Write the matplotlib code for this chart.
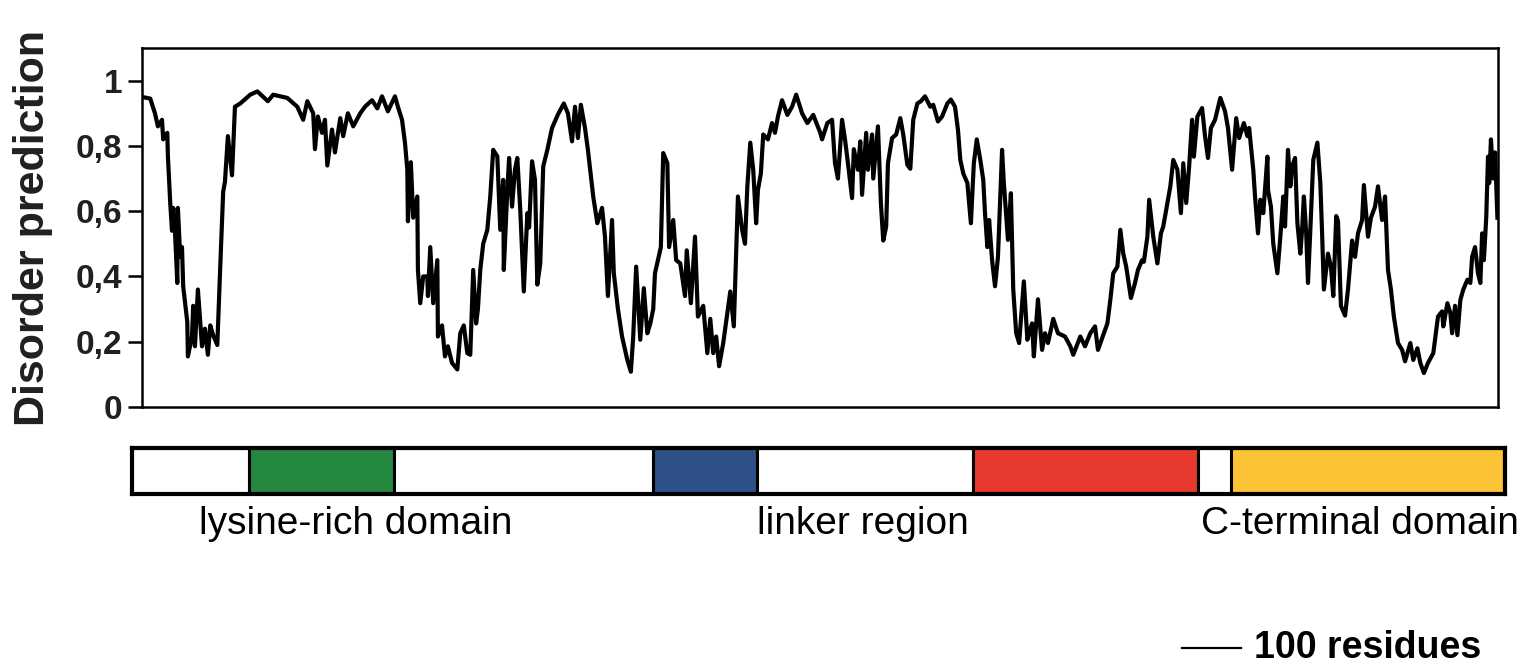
import matplotlib
matplotlib.use("Agg")
import matplotlib.pyplot as plt
from matplotlib.transforms import blended_transform_factory

plt.rcParams["font.family"] = ["Liberation Sans", "DejaVu Sans"]

# disorder prediction trace (residue, score)
residue = [
    0, 14, 22, 27, 34, 36, 43, 44, 48, 51, 53, 56, 60, 61, 65, 68, 70, 77, 78, 85,
    87, 90, 95, 102, 107, 112, 116, 121, 128, 133, 138, 141, 146, 153, 158, 167, 184, 196, 214, 223,
    247, 264, 274, 281, 291, 294, 299, 306, 311, 315, 323, 328, 337, 342, 350, 359, 371, 379, 391, 400,
    408, 418, 430, 435, 442, 447, 451, 452, 457, 461, 468, 469, 473, 478, 485, 486, 490, 495, 502, 503,
    510, 515, 520, 527, 536, 541, 547, 553, 558, 563, 568, 571, 575, 580, 587, 592, 597, 604, 609, 614,
    615, 621, 624, 629, 634, 638, 643, 649, 655, 658, 663, 668, 672, 677, 682, 689, 697, 707, 717, 724,
    731, 736, 741, 746, 753, 758, 767, 774, 782, 787, 792, 799, 802, 809, 816, 825, 831, 835, 840, 847,
    853, 859, 864, 869, 872, 877, 882, 886, 893, 896, 903, 908, 915, 923, 926, 933, 940, 945, 954, 961,
    966, 971, 976, 981, 988, 995, 1000, 1006, 1013, 1020, 1025, 1029, 1034, 1039, 1044, 1047, 1052, 1056, 1064, 1071,
    1076, 1081, 1088, 1097, 1105, 1112, 1122, 1131, 1141, 1153, 1156, 1165, 1173, 1178, 1183, 1190, 1195, 1200, 1207, 1210,
    1217, 1221, 1224, 1231, 1234, 1241, 1243, 1251, 1256, 1260, 1265, 1268, 1275, 1282, 1289, 1294, 1301, 1306, 1311, 1318,
    1324, 1331, 1340, 1345, 1353, 1360, 1369, 1375, 1382, 1387, 1391, 1396, 1403, 1409, 1414, 1419, 1425, 1430, 1433, 1437,
    1440, 1445, 1450, 1455, 1462, 1465, 1472, 1477, 1481, 1486, 1491, 1499, 1505, 1508, 1513, 1516, 1523, 1530, 1535, 1540,
    1549, 1557, 1569, 1578, 1583, 1595, 1603, 1612, 1620, 1625, 1634, 1641, 1646, 1651, 1658, 1663, 1668, 1673, 1681, 1688,
    1693, 1700, 1703, 1709, 1712, 1719, 1726, 1732, 1736, 1743, 1748, 1753, 1760, 1766, 1770, 1775, 1780, 1785, 1788, 1794,
    1802, 1807, 1812, 1817, 1824, 1833, 1841, 1846, 1853, 1860, 1865, 1873, 1879, 1882, 1889, 1892, 1897, 1901, 1906, 1913,
    1914, 1919, 1923, 1930, 1935, 1940, 1943, 1948, 1952, 1955, 1960, 1964, 1969, 1972, 1975, 1979, 1982, 1986, 1991, 1998,
    2003, 2006, 2009, 2016, 2021, 2025, 2030, 2033, 2038, 2045, 2050, 2057, 2062, 2067, 2074, 2077, 2084, 2089, 2096, 2101,
    2108, 2113, 2118, 2123, 2128, 2135, 2142, 2147, 2156, 2161, 2168, 2173, 2179, 2186, 2195, 2203, 2210, 2212, 2219, 2224,
    2227, 2232, 2236, 2241, 2246, 2253, 2258, 2261, 2266, 2271, 2275, 2278, 2281, 2285, 2288, 2290, 2293, 2297, 2300, 2304,
]
disorder = [
    0.95, 0.945, 0.90, 0.86, 0.88, 0.82, 0.84, 0.77, 0.625, 0.54, 0.61, 0.54, 0.38, 0.61, 0.46, 0.49, 0.37, 0.26, 0.155, 0.216,
    0.31, 0.186, 0.36, 0.186, 0.24, 0.16, 0.25, 0.22, 0.19, 0.43, 0.66, 0.69, 0.83, 0.71, 0.92, 0.93, 0.957, 0.967, 0.937, 0.957,
    0.947, 0.92, 0.88, 0.937, 0.90, 0.79, 0.89, 0.84, 0.88, 0.74, 0.85, 0.78, 0.885, 0.83, 0.90, 0.86, 0.90, 0.92, 0.94, 0.915,
    0.952, 0.906, 0.952, 0.92, 0.88, 0.81, 0.727, 0.569, 0.75, 0.58, 0.645, 0.42, 0.318, 0.40, 0.40, 0.34, 0.49, 0.318, 0.45, 0.216,
    0.25, 0.155, 0.186, 0.135, 0.115, 0.226, 0.25, 0.165, 0.16, 0.42, 0.256, 0.30, 0.42, 0.50, 0.543, 0.645, 0.788, 0.768, 0.543, 0.696,
    0.42, 0.665, 0.763, 0.614, 0.727, 0.763, 0.604, 0.354, 0.594, 0.55, 0.753, 0.696, 0.375, 0.44, 0.737, 0.788, 0.855, 0.896, 0.93, 0.90,
    0.814, 0.92, 0.824, 0.926, 0.855, 0.788, 0.645, 0.563, 0.61, 0.522, 0.34, 0.573, 0.41, 0.30, 0.216, 0.144, 0.108, 0.216, 0.43, 0.206,
    0.364, 0.226, 0.256, 0.30, 0.41, 0.45, 0.49, 0.778, 0.747, 0.49, 0.573, 0.45, 0.44, 0.34, 0.48, 0.318, 0.522, 0.277, 0.31, 0.165,
    0.27, 0.165, 0.216, 0.125, 0.196, 0.288, 0.354, 0.247, 0.645, 0.543, 0.50, 0.676, 0.81, 0.727, 0.563, 0.665, 0.716, 0.835, 0.82, 0.87,
    0.84, 0.89, 0.94, 0.895, 0.92, 0.957, 0.90, 0.87, 0.895, 0.84, 0.82, 0.87, 0.88, 0.747, 0.70, 0.88, 0.82, 0.747, 0.64, 0.79,
    0.727, 0.814, 0.65, 0.84, 0.727, 0.835, 0.70, 0.86, 0.625, 0.51, 0.553, 0.747, 0.824, 0.835, 0.885, 0.835, 0.742, 0.73, 0.88, 0.93,
    0.937, 0.952, 0.92, 0.926, 0.875, 0.89, 0.93, 0.942, 0.92, 0.85, 0.757, 0.716, 0.686, 0.563, 0.747, 0.82, 0.757, 0.696, 0.594, 0.49,
    0.573, 0.45, 0.37, 0.46, 0.788, 0.686, 0.512, 0.655, 0.36, 0.226, 0.196, 0.385, 0.206, 0.226, 0.256, 0.155, 0.33, 0.175, 0.226, 0.196,
    0.27, 0.226, 0.216, 0.186, 0.16, 0.216, 0.186, 0.226, 0.247, 0.175, 0.22, 0.256, 0.328, 0.41, 0.43, 0.543, 0.47, 0.43, 0.334, 0.38,
    0.42, 0.45, 0.445, 0.522, 0.635, 0.522, 0.44, 0.532, 0.553, 0.625, 0.676, 0.757, 0.727, 0.594, 0.747, 0.625, 0.737, 0.88, 0.767, 0.89,
    0.916, 0.83, 0.763, 0.855, 0.88, 0.947, 0.906, 0.855, 0.727, 0.885, 0.824, 0.87, 0.83, 0.855, 0.727, 0.645, 0.532, 0.635, 0.594, 0.767,
    0.665, 0.614, 0.50, 0.41, 0.522, 0.645, 0.553, 0.788, 0.676, 0.737, 0.763, 0.563, 0.47, 0.543, 0.645, 0.532, 0.38, 0.543, 0.757, 0.81,
    0.686, 0.532, 0.36, 0.47, 0.43, 0.34, 0.585, 0.57, 0.31, 0.28, 0.36, 0.51, 0.46, 0.532, 0.573, 0.68, 0.522, 0.58, 0.614, 0.676,
    0.573, 0.645, 0.42, 0.36, 0.277, 0.196, 0.175, 0.14, 0.196, 0.144, 0.18, 0.135, 0.104, 0.135, 0.165, 0.277, 0.293, 0.247, 0.318, 0.288,
    0.226, 0.31, 0.22, 0.328, 0.36, 0.39, 0.38, 0.46, 0.49, 0.41, 0.38, 0.532, 0.45, 0.58, 0.767, 0.686, 0.82, 0.70, 0.78, 0.58,
]

y_ticks = [0, 0.2, 0.4, 0.6, 0.8, 1]
y_tick_labels = ["0", "0,2", "0,4", "0,6", "0,8", "1"]

# domain map (bar coordinates, residues)
domain_starts = [0, 199, 445, 886, 1063, 1430, 1812, 1868]
domain_ends = [199, 445, 886, 1063, 1430, 1812, 1868, 2334]
domain_colors = ["white", "#258841", "white", "#2d5186", "white", "#e8392f", "white", "#fdc336"]

W, H = 1529, 666
fig = plt.figure(figsize=(W / 100, H / 100), dpi=100)

ax = fig.add_axes([142 / W, 1 - 407 / H, 1356 / W, 359 / H])
ax.plot(residue, disorder, color="black", linewidth=3.0, solid_joinstyle="round")
ax.set_xlim(0, 2305)
ax.set_ylim(0, 1.1)
ax.set_xticks([])
ax.set_yticks(y_ticks)
ax.set_yticklabels(y_tick_labels, fontsize=24, fontweight="bold", color="#231f20")
ax.tick_params(axis="y", direction="out", length=10, width=1.8, pad=4)
for s in ax.spines.values():
    s.set_linewidth(1.8)
ax.set_ylabel("Disorder prediction", fontsize=31, fontweight="bold", color="#231f20")
ax.yaxis.set_label_coords(-0.066, 0.5)

# domain bar
bx = fig.add_axes([132 / W, 1 - 494 / H, 1373 / W, 46 / H])
for a, b, c in zip(domain_starts, domain_ends, domain_colors):
    bx.barh(0, b - a, left=a, height=1, color=c, edgecolor="black", linewidth=2.2)
bx.set_xlim(0, 2334)
bx.set_ylim(-0.5, 0.5)
bx.set_xticks([])
bx.set_yticks([])
for s in bx.spines.values():
    s.set_linewidth(3)

tr = blended_transform_factory(bx.transData, fig.transFigure)
label_y = 1 - 524 / H
bx.text(381, label_y, "lysine-rich domain", transform=tr, ha="center", va="center", fontsize=28)
bx.text(1243, label_y, "linker region", transform=tr, ha="center", va="center", fontsize=28)
bx.text(2088, label_y, "C-terminal domain", transform=tr, ha="center", va="center", fontsize=28)

# scale bar: 100 residues
tr2 = blended_transform_factory(ax.transData, fig.transFigure)
sb_y = 1 - 648 / H
ax.plot([1768, 1868], [sb_y, sb_y], transform=tr2, color="black", linewidth=1.6, clip_on=False)
ax.text(1890, sb_y, "100 residues", transform=tr2, ha="left", va="center",
        fontsize=27, fontweight="bold", clip_on=False)

fig.savefig("out.png", dpi=100)
